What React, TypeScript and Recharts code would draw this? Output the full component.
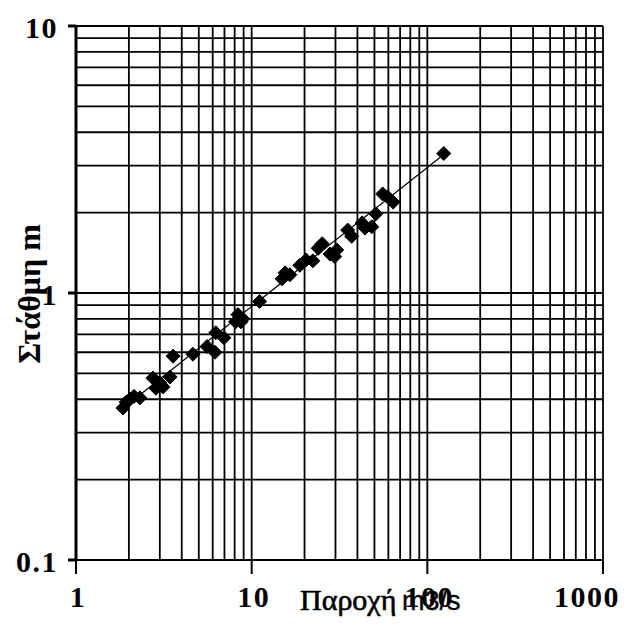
import React from 'react'
import {
  ReferenceLine,
  Scatter,
  ScatterChart,
  XAxis,
  YAxis,
  Label,
} from 'recharts'

// measured points: discharge (m3/s) vs stage (m)
const discharge = [
  1.85, 1.93, 2.03, 2.14, 2.31, 2.74, 2.85, 3.01, 3.13, 3.43,
  3.57, 4.63, 5.57, 6.18, 6.25, 6.95, 8.35, 8.69, 8.1, 8.9,
  11.1, 14.9, 15.5, 16.5, 18.8, 20.4, 22.3, 25.2, 23.9, 27.9,
  29.7, 30.5, 35.2, 37.1, 42.5, 44.2, 48.3, 50.9, 55.7, 59.4,
  63.9, 124,
]
const stage = [
  0.371, 0.39, 0.4, 0.41, 0.405, 0.48, 0.44, 0.46, 0.445, 0.485,
  0.58, 0.59, 0.63, 0.6, 0.71, 0.68, 0.83, 0.78, 0.78, 0.8,
  0.93, 1.13, 1.19, 1.17, 1.27, 1.33, 1.32, 1.53, 1.47, 1.4,
  1.37, 1.45, 1.72, 1.63, 1.83, 1.75, 1.77, 1.98, 2.35, 2.29,
  2.19, 3.33,
]

// fitted rating curve endpoints
const trendQ = [1.85, 124]
const trendH = [0.37, 3.3]

const xTicks = [1, 10, 100, 1000]
const yTicks = [0.1, 1, 10]
const xGrid = [2, 3, 4, 5, 6, 7, 8, 9, 10, 20, 30, 40, 50, 60, 70, 80, 90, 100, 200, 300, 400, 500, 600, 700, 800, 900, 1000]
const yGrid = [0.2, 0.3, 0.4, 0.5, 0.6, 0.7, 0.8, 0.9, 1, 2, 3, 4, 5, 6, 7, 8, 9, 10]

const points = discharge.map((q, i) => ({ q, h: stage[i] }))
const trend = trendQ.map((q, i) => ({ q, h: trendH[i] }))

const serif = 'Liberation Serif, DejaVu Serif, serif'
const sans = 'Liberation Sans, Arial, sans-serif'

const Diamond = (props: any) => {
  const { cx, cy } = props
  if (cx == null || cy == null) return <g />
  const r = 7
  return (
    <path
      d={`M${cx},${cy - r} L${cx + r},${cy} L${cx},${cy + r} L${cx - r},${cy} Z`}
      fill="#000"
      stroke="#000"
      strokeWidth={1}
      strokeLinejoin="round"
    />
  )
}

const XTick = (props: any) => {
  const { x, y, payload } = props
  const last = payload.value === 1000
  return (
    <text
      x={last ? x + 17 : x + 2}
      y={y}
      dy={33}
      textAnchor={last ? 'end' : 'middle'}
      style={{ fontFamily: serif, fontWeight: 'bold', fontSize: 30, letterSpacing: 1.5 }}
      fill="#000"
    >
      {payload.value}
    </text>
  )
}

const YTick = (props: any) => {
  const { x, y, payload } = props
  return (
    <text
      x={x - 10}
      y={y}
      dy={12}
      textAnchor="end"
      style={{ fontFamily: serif, fontWeight: 'bold', fontSize: 30, letterSpacing: 1.5 }}
      fill="#000"
    >
      {payload.value}
    </text>
  )
}

const XTitle = () => (
  <g>
    <text
      x={300}
      y={610}
      textAnchor="start"
      fill="#000"
      stroke="#000"
      strokeWidth={0.6}
      style={{ fontFamily: serif, fontSize: 30 }}
    >
      Παροχή
    </text>
    <text
      x={402}
      y={610}
      textAnchor="start"
      fill="#000"
      stroke="#000"
      strokeWidth={0.4}
      style={{ fontFamily: sans, fontSize: 27 }}
    >
      m3/s
    </text>
  </g>
)

export default function App() {
  return (
    <div style={{ position: 'absolute', left: 0, top: 0, width: 636, height: 637, background: '#fff' }}>
      <ScatterChart width={636} height={637} margin={{ top: 26, right: 33, bottom: 0, left: 0 }}>
        <XAxis
          type="number"
          dataKey="q"
          scale="log"
          domain={[1, 1000]}
          ticks={xTicks}
          allowDataOverflow
          height={77}
          tickSize={14}
          tickMargin={0}
          tick={<XTick />}
          stroke="#000"
          strokeWidth={2}
        >
          <Label content={() => <XTitle />} />
        </XAxis>
        <YAxis
          type="number"
          dataKey="h"
          scale="log"
          domain={[0.1, 10]}
          ticks={yTicks}
          allowDataOverflow
          width={76}
          tickSize={8}
          tickMargin={0}
          tick={<YTick />}
          stroke="#000"
          strokeWidth={3}
        >
          <Label
            content={() => (
              <text
                x={40}
                y={294}
                textAnchor="middle"
                fill="#000"
                style={{ fontFamily: serif, fontWeight: 'bold', fontSize: 32 }}
                transform="rotate(-90 40 294)"
              >
                Στάθμη m
              </text>
            )}
          />
        </YAxis>
        {xGrid.map((v) => (
          <ReferenceLine key={`x${v}`} x={v} stroke="#000" strokeWidth={1.8} />
        ))}
        {yGrid.map((v) => (
          <ReferenceLine key={`y${v}`} y={v} stroke="#000" strokeWidth={1.8} />
        ))}
        <Scatter
          data={trend}
          line={{ stroke: '#000', strokeWidth: 1.2 }}
          shape={() => <g />}
          isAnimationActive={false}
        />
        <Scatter data={points} shape={<Diamond />} isAnimationActive={false} />
      </ScatterChart>
    </div>
  )
}
